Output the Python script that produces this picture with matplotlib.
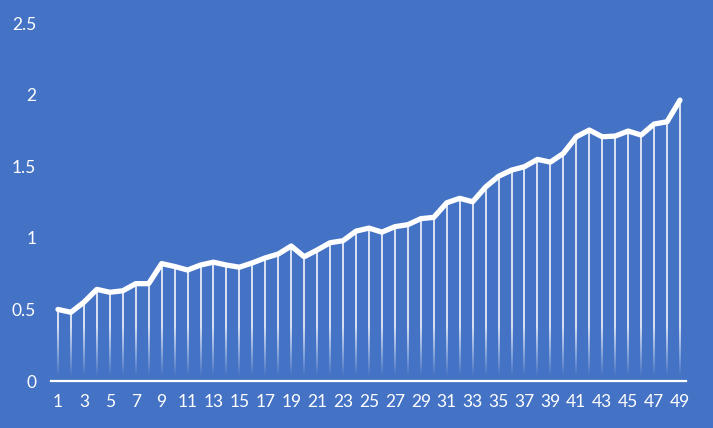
import numpy as np
import matplotlib
matplotlib.use("Agg")
import matplotlib.pyplot as plt
from matplotlib.collections import LineCollection

# values
categories = list(range(1, 50))
values = [0.50, 0.48, 0.55, 0.64, 0.62, 0.63, 0.68, 0.68, 0.82, 0.80,
          0.775, 0.81, 0.83, 0.81, 0.795, 0.825, 0.86, 0.887, 0.943, 0.868,
          0.915, 0.966, 0.98, 1.047, 1.068, 1.04, 1.078, 1.092, 1.134, 1.143,
          1.245, 1.276, 1.252, 1.355, 1.43, 1.473, 1.497, 1.548, 1.529, 1.59,
          1.706, 1.753, 1.706, 1.711, 1.746, 1.718, 1.795, 1.811, 1.962]
xtick_labels = [str(c) for c in categories[::2]]
yticks = [0, 0.5, 1, 1.5, 2, 2.5]

bg = "#4472C4"
plt.rcParams['font.family'] = ['Lato', 'DejaVu Sans']

fig = plt.figure(figsize=(7.13, 4.28), dpi=100)
fig.patch.set_facecolor(bg)
ax = fig.add_axes([0.0722, 0.1098, 0.8906, 0.8362])
ax.set_facecolor(bg)

# drop lines, white fading out towards the baseline
segs = []
cols = []
step = 0.01
for x, v in zip(categories, values):
    ys = np.arange(0, v, step)
    for y0 in ys:
        y1 = min(y0 + step, v)
        segs.append([(x, y0), (x, y1)])
        a = np.clip((y0 - 0.03) / 0.35, 0, 1) * 0.8
        cols.append((1, 1, 1, a))
ax.add_collection(LineCollection(segs, colors=cols, linewidths=1.4, capstyle='butt'))

ax.plot(categories, values, color='white', lw=3.8, solid_joinstyle='round',
        solid_capstyle='round', zorder=3)

ax.set_xlim(0.5, 49.5)
ax.set_ylim(0, 2.5)
for s in ['top', 'right', 'left']:
    ax.spines[s].set_visible(False)
ax.spines['bottom'].set_color('white')
ax.spines['bottom'].set_linewidth(1.6)

ax.set_xticks(categories[::2])
ax.set_xticklabels(xtick_labels)
ax.set_yticks(yticks)
ax.set_yticklabels(['0', '0.5', '1', '1.5', '2', '2.5'])
ax.tick_params(axis='both', length=0, colors='white', labelsize=12.5)
ax.tick_params(axis='x', pad=9)
ax.tick_params(axis='y', pad=11)

fig.savefig("out.png", dpi=100, facecolor=bg)
